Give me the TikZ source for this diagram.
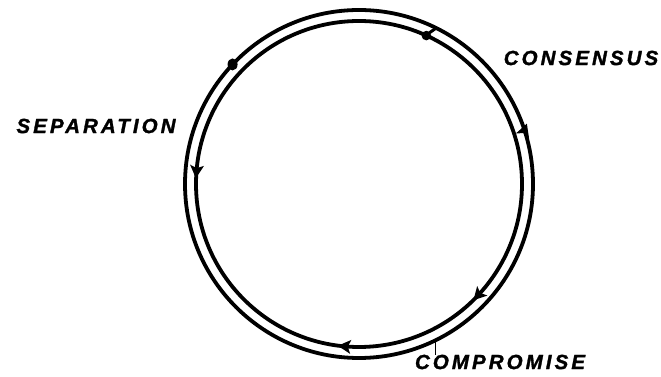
\documentclass[tikz,border=0pt]{standalone}
\usepackage{fontspec}
\setmainfont{Liberation Sans}[LetterSpace=15, FakeBold=1.5]
\usetikzlibrary{calc}
\tikzset{
  ring/.style={line width=3.8pt},
  lbl/.style={font=\fontsize{20.5}{20.5}\selectfont\bfseries\itshape, inner sep=0pt},
  tip/.style={fill=black},
  blob/.style={fill=black}
}
\begin{document}
\begin{tikzpicture}[x=1pt,y=1pt]
\useasboundingbox (0,0) rectangle (661,377);
\coordinate (c) at (359,193);
\draw[ring] (c) circle[radius=174];
\draw[ring] (c) circle[radius=163];
% marks
\fill[blob] ($(c)+(136.6:174)$) circle[x radius=5, y radius=6];
\draw[line width=3pt] ($(c)+(63.5:175)$) -- ($(c)+(66:162)$);
\fill[blob] ($(c)+(65.6:163)$) circle[radius=4.8];
% arrowheads (clockwise)
\fill[tip, shift={($(c)+(175.5:163)$)}, rotate=-95] (7,0) -- (-6,7) -- (-3,0) -- (-6,-7) -- cycle;
\fill[tip, shift={($(c)+(18:174)$)}, rotate=70] (7,0) -- (-6,7) -- (-3,0) -- (-6,-7) -- cycle;
\fill[tip, shift={($(c)+(-43:163)$)}, rotate=-133] (7,0) -- (-6,7) -- (-3,0) -- (-6,-7) -- cycle;
\fill[tip, shift={($(c)+(265:163)$)}, rotate=175] (7,0) -- (-6,7) -- (-3,0) -- (-6,-7) -- cycle;
% labels
\node[lbl] (sep) at (96,251) {SEPARATION};
\node[lbl] (con) at (581,319) {CONSENSUS};
\node[lbl] (com) at (500,15) {COMPROMISE};
\coordinate (lead) at ($(c)+(-63.9:174)$);
\draw[line width=1.8pt] (lead) -- (lead |- com.north);
\end{tikzpicture}
\end{document}
